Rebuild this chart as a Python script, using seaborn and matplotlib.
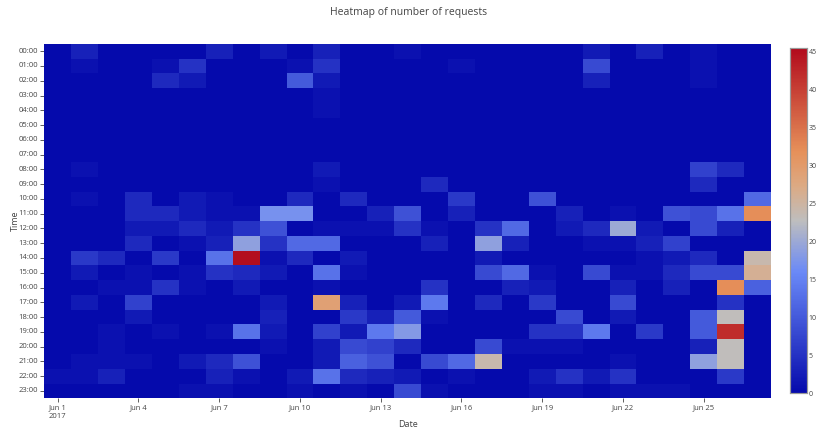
import seaborn as sns
import matplotlib.pyplot as plt
import pandas as pd
import numpy as np
from matplotlib.colors import LinearSegmentedColormap

sns.set_style("white")
plt.rcParams['font.family'] = ['Open Sans', 'DejaVu Sans']

# dates and hours
dates = pd.date_range("2017-06-01", "2017-06-27", freq="D")
hours = ["%02d:00" % h for h in range(24)]

# requests per hour (rows) and day (columns)
r00 = [0, 3, 0, 0, 0, 0, 3, 0, 2, 0, 3, 0, 0, 1, 0, 0, 0, 0, 0, 0, 2, 0, 3, 0, 1, 0, 0]
r01 = [0, 1, 0, 0, 1, 5, 0, 0, 0, 1, 5, 0, 0, 0, 0, 1, 0, 0, 0, 0, 8, 0, 0, 0, 1, 0, 0]
r02 = [0, 0, 0, 0, 4, 2, 0, 0, 0, 10, 2, 0, 0, 0, 0, 0, 0, 0, 0, 0, 3, 0, 0, 0, 1, 0, 0]
r03 = [0, 0, 0, 0, 0, 0, 0, 0, 0, 0, 1, 0, 0, 0, 0, 0, 0, 0, 0, 0, 0, 0, 0, 0, 0, 0, 0]
r04 = [0, 0, 0, 0, 0, 0, 0, 0, 0, 0, 1, 0, 0, 0, 0, 0, 0, 0, 0, 0, 0, 0, 0, 0, 0, 0, 0]
r05 = [0] * 27
r06 = [0] * 27
r07 = [0] * 27
r08 = [0, 1, 0, 0, 0, 0, 0, 0, 0, 0, 2, 0, 0, 0, 0, 0, 0, 0, 0, 0, 0, 0, 0, 0, 7, 4, 0]
r09 = [0, 0, 0, 0, 0, 0, 0, 0, 0, 0, 1, 0, 0, 0, 4, 0, 0, 0, 0, 0, 0, 0, 0, 0, 4, 0, 0]
r10 = [0, 1, 0, 4, 0, 2, 1, 0, 0, 4, 0, 4, 0, 0, 0, 6, 0, 0, 9, 0, 0, 0, 0, 0, 0, 0, 12]
r11 = [0, 0, 0, 4, 4, 2, 1, 1, 17, 17, 0, 0, 3, 9, 0, 3, 0, 0, 0, 3, 0, 1, 0, 9, 8, 13, 32]
r12 = [0, 0, 0, 2, 2, 4, 2, 5, 9, 0, 1, 1, 1, 5, 1, 0, 5, 12, 0, 2, 4, 20, 2, 0, 8, 3, 0]
r13 = [0, 0, 0, 4, 0, 1, 3, 19, 5, 12, 12, 0, 0, 0, 3, 0, 19, 3, 0, 0, 1, 1, 3, 7, 0, 0, 0]
r14 = [0, 6, 4, 0, 6, 0, 13, 45, 1, 4, 0, 2, 0, 0, 0, 0, 2, 0, 0, 0, 0, 0, 1, 2, 4, 0, 24]
r15 = [0, 2, 0, 1, 0, 1, 5, 4, 2, 0, 13, 1, 0, 0, 0, 0, 8, 12, 1, 0, 8, 1, 1, 4, 8, 8, 26]
r16 = [0, 0, 1, 1, 5, 1, 0, 2, 0, 0, 1, 0, 0, 0, 5, 0, 0, 3, 2, 0, 0, 3, 0, 3, 0, 32, 11]
r17 = [0, 2, 0, 7, 0, 0, 0, 0, 2, 0, 29, 3, 0, 2, 14, 0, 4, 0, 6, 0, 0, 8, 0, 0, 0, 5, 0]
r18 = [0, 0, 0, 2, 0, 0, 0, 0, 3, 0, 0, 6, 3, 10, 1, 0, 0, 0, 0, 8, 0, 2, 0, 0, 10, 23, 0]
r19 = [0, 0, 1, 0, 1, 0, 1, 13, 2, 0, 7, 2, 14, 18, 0, 0, 0, 0, 5, 5, 14, 0, 6, 0, 10, 42, 0]
r20 = [0, 0, 1, 0, 0, 0, 0, 0, 1, 0, 2, 8, 7, 4, 0, 0, 8, 1, 1, 1, 0, 0, 0, 0, 3, 23, 0]
r21 = [0, 1, 1, 1, 0, 2, 4, 9, 0, 0, 2, 11, 9, 0, 8, 12, 24, 0, 0, 0, 0, 1, 0, 0, 19, 23, 0]
r22 = [1, 1, 3, 0, 0, 0, 3, 1, 0, 2, 13, 4, 3, 2, 0, 1, 0, 0, 2, 5, 2, 5, 0, 0, 0, 6, 0]
r23 = [0, 0, 0, 0, 0, 1, 1, 0, 0, 1, 0, 1, 0, 8, 1, 0, 0, 0, 1, 1, 0, 1, 1, 1, 0, 0, 0]

rows = [r00, r01, r02, r03, r04, r05, r06, r07, r08, r09, r10, r11,
        r12, r13, r14, r15, r16, r17, r18, r19, r20, r21, r22, r23]

tick_days = [1, 4, 7, 10, 13, 16, 19, 22, 25]
tick_labels = ["Jun 1\n2017"] + ["Jun %d" % d for d in tick_days[1:]]
cbar_ticks = [0, 5, 10, 15, 20, 25, 30, 35, 40, 45]

data = pd.DataFrame(rows, index=hours, columns=dates)

# plotly-like RdBu (reversed)
cmap = LinearSegmentedColormap.from_list("rdbu_plotly", [
    (0.0, (5/255, 10/255, 172/255)),
    (0.35, (106/255, 137/255, 247/255)),
    (0.5, (190/255, 190/255, 190/255)),
    (0.6, (220/255, 170/255, 132/255)),
    (0.7, (230/255, 145/255, 90/255)),
    (1.0, (178/255, 10/255, 28/255)),
])

txt = "#444444"
fig = plt.figure(figsize=(8.17, 4.30), dpi=100)
ax = fig.add_axes([0.0542, 0.0737, 0.8895, 0.8244])
cax = fig.add_axes([0.967, 0.086, 0.0208, 0.802])

sns.heatmap(data, cmap=cmap, vmin=0, vmax=45.5, ax=ax, cbar_ax=cax,
            xticklabels=False, yticklabels=True)

ax.set_yticks(np.arange(len(hours)) + 0.5)
ax.set_yticklabels(hours, rotation=0, fontsize=5.5, color=txt)
xpos = [dates.get_loc(pd.Timestamp(2017, 6, d)) + 0.5 for d in tick_days]
ax.set_xticks(xpos)
ax.set_xticklabels(tick_labels, rotation=0, fontsize=5.5, color=txt,
                   ha="center", multialignment="left")
ax.tick_params(axis="both", length=3, width=0.6, color="#444444", pad=1.5)
ax.tick_params(axis="both", which="both", left=True, bottom=True)

ax.set_xlabel("Date", fontsize=6.5, color=txt, va="center")
ax.xaxis.set_label_coords(0.5, -0.073)
ax.set_ylabel("Time", fontsize=6.5, color=txt, va="center")
ax.yaxis.set_label_coords(-0.04, 0.5)
fig.text(0.5, 0.972, "Heatmap of number of requests", ha="center", va="center",
         fontsize=7.5, color=txt)

cax.set_yticks(cbar_ticks)
cax.set_yticklabels([str(t) for t in cbar_ticks], fontsize=5, color=txt)
cax.tick_params(length=0, pad=1)
for s in cax.spines.values():
    s.set_visible(True)
    s.set_color("#999999")
    s.set_linewidth(0.8)

fig.savefig("out.png", dpi=100)
plt.close()
